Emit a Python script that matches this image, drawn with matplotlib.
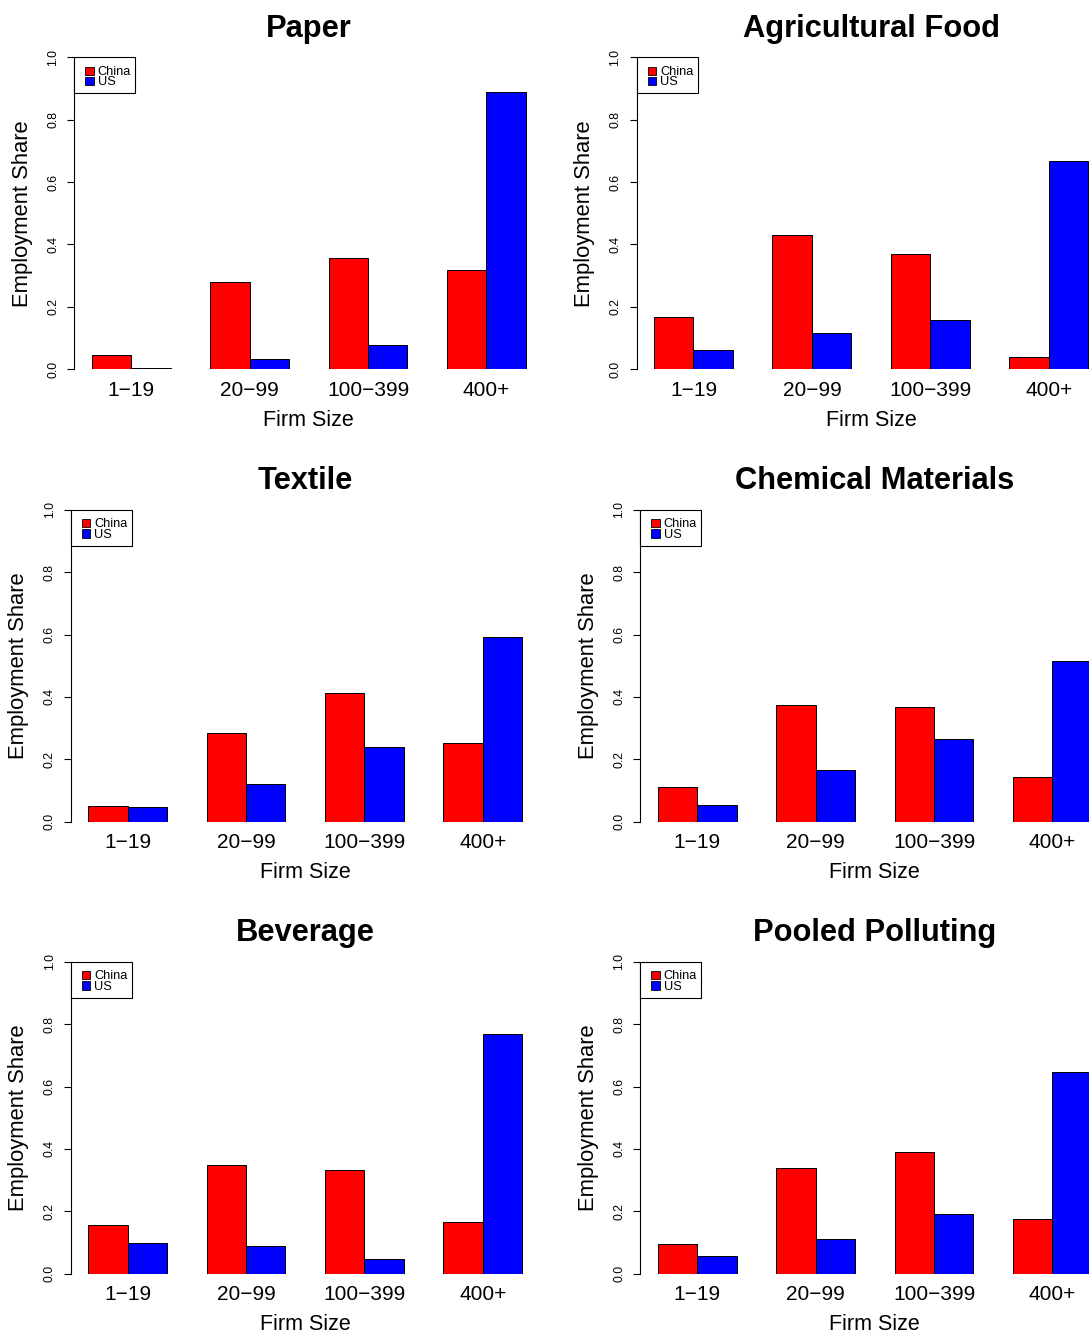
import numpy as np
import matplotlib
matplotlib.use("Agg")
import matplotlib.pyplot as plt
import matplotlib.patches as mpatches
import matplotlib.transforms as mtransforms

plt.rcParams['font.family'] = ['Liberation Sans', 'DejaVu Sans']

# data
sizes = ["1\u221219", "20\u221299", "100\u2212399", "400+"]
titles = ["Paper", "Agricultural Food", "Textile", "Chemical Materials",
          "Beverage", "Pooled Polluting"]
paper_china = [0.047, 0.279, 0.358, 0.319]
paper_us = [0.005, 0.034, 0.077, 0.888]
agri_china = [0.167, 0.429, 0.369, 0.038]
agri_us = [0.062, 0.115, 0.158, 0.668]
textile_china = [0.050, 0.284, 0.411, 0.253]
textile_us = [0.048, 0.120, 0.240, 0.593]
chem_china = [0.112, 0.375, 0.369, 0.142]
chem_us = [0.054, 0.166, 0.266, 0.515]
bev_china = [0.156, 0.349, 0.332, 0.166]
bev_us = [0.100, 0.089, 0.046, 0.769]
pooled_china = [0.094, 0.339, 0.391, 0.176]
pooled_us = [0.057, 0.111, 0.190, 0.645]

china = [paper_china, agri_china, textile_china, chem_china, bev_china, pooled_china]
us = [paper_us, agri_us, textile_us, chem_us, bev_us, pooled_us]

W, H = 1089, 1334
fig = plt.figure(figsize=(W / 100, H / 100), dpi=100)

# panel layout in pixels: (left, top) of the plot region
lefts = [74.3, 636.6, 70.7, 640.3, 70.7, 640.3]
tops = [57.3, 57.3, 509.7, 509.7, 961.7, 961.7]
pw, ph = 469.0, 312.0

RED = "#ff0000"
BLUE = "#0000ff"

for k in range(6):
    ax = fig.add_axes([lefts[k] / W, (H - tops[k] - ph) / H, pw / W, ph / H])
    g = np.arange(len(sizes)) * 3
    ax.bar(g + 1.5, china[k], width=1.0, color=RED, edgecolor="black", linewidth=0.7)
    ax.bar(g + 2.5, us[k], width=1.0, color=BLUE, edgecolor="black", linewidth=0.7)
    ax.set_xlim(0.56, 12.44)
    ax.set_ylim(0, 1)
    for s in ["top", "right", "bottom"]:
        ax.spines[s].set_visible(False)
    ax.spines["left"].set_linewidth(0.8)
    ax.spines["left"].set_bounds(0, 1)
    ax.set_yticks([0, 0.2, 0.4, 0.6, 0.8, 1.0])
    ax.set_yticklabels(["0.0", "0.2", "0.4", "0.6", "0.8", "1.0"],
                       rotation=90, va="center", fontsize=8.8)
    ax.tick_params(axis="y", length=5.3, width=0.8, pad=5.5)
    ax.set_xticks(g + 2)
    ax.set_xticklabels(sizes, fontsize=15)
    ax.tick_params(axis="x", length=0, pad=8.4)
    ax.set_xlabel("Firm Size", fontsize=15.5)
    ax.xaxis.set_label_coords(0.5, -0.13)
    ax.set_ylabel("Employment Share", fontsize=15.8)
    ax.yaxis.set_label_coords(-41.5 / pw, 0.5)
    ax.set_title(titles[k], fontsize=22.2, fontweight="bold", pad=14.8)

    # legend box in the top-left corner, drawn in pixels
    x0, y0 = ax.transAxes.transform((0, 1))
    T = mtransforms.Affine2D().translate(x0, y0)
    fig.add_artist(mpatches.Rectangle((0, -36), 61, 36, transform=T,
                                      facecolor="white", edgecolor="black", linewidth=0.8))
    for j, (lab, col) in enumerate([("China", RED), ("US", BLUE)]):
        base = -17.7 - 10.3 * j
        fig.add_artist(mpatches.Rectangle((11, base), 8.5, 8.5, transform=T,
                                          facecolor=col, edgecolor="black", linewidth=0.6))
        fig.text(23.5, base, lab, transform=T, fontsize=9.2, va="baseline", ha="left")

fig.savefig("out.png", dpi=100)
